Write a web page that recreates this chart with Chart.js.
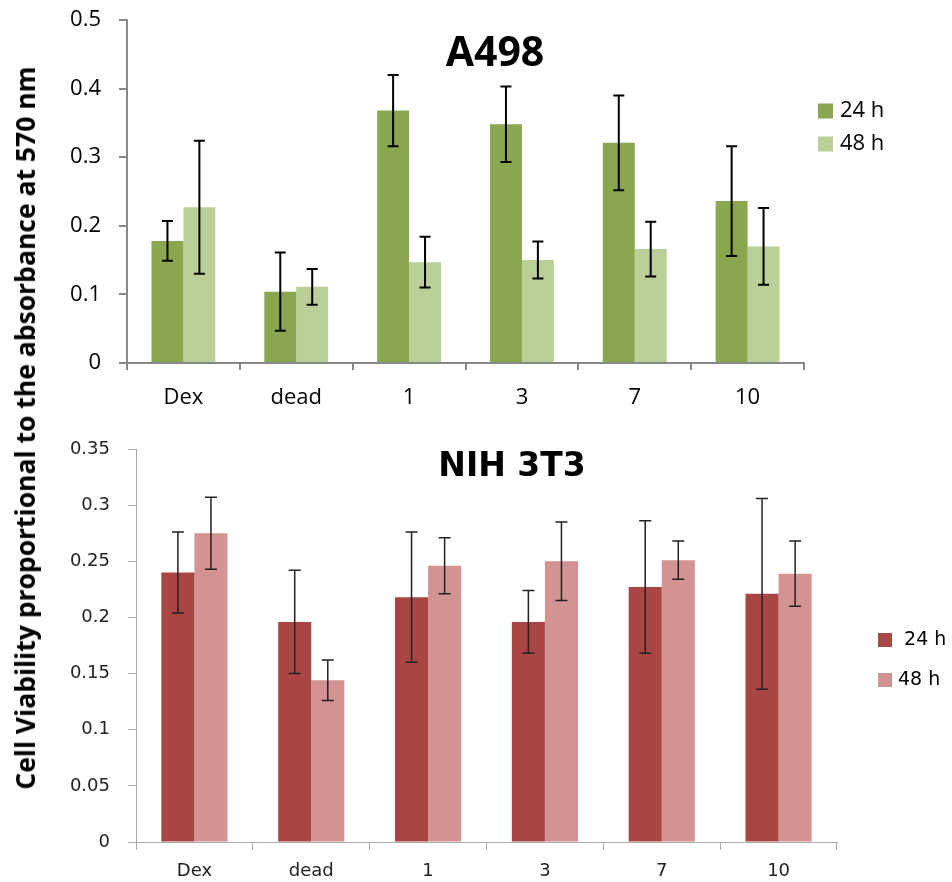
<!DOCTYPE html>
<html><head><meta charset="utf-8">
<script src="https://cdn.jsdelivr.net/npm/chart.js@4.4.1/dist/chart.umd.min.js"></script>
<style>
html,body{margin:0;padding:0;background:#fff;}
#wrap{position:relative;width:952px;height:882px;overflow:hidden;}
#c1{position:absolute;left:0;top:0;}
#c2{position:absolute;left:0;top:420px;}
#ytitle{position:absolute;left:25px;top:428px;transform:translate(-50%,-50%) rotate(-90deg);white-space:nowrap;font:bold 26.5px "Open Sans";color:#000;}
</style></head>
<body><div id="wrap">
<canvas id="c1" width="952" height="420"></canvas>
<canvas id="c2" width="952" height="462"></canvas>
<div id="ytitle">Cell Viability proportional to the absorbance at 570 nm</div>
</div>
<script>
const categories = ['Dex','dead','1','3','7','10'];

const titleTop = 'A498';
const seriesTop = ['24 h','48 h'];
const top24 = [0.178, 0.104, 0.368, 0.348, 0.321, 0.236];
const top24Err = [0.029, 0.057, 0.052, 0.055, 0.069, 0.080];
const top48 = [0.227, 0.111, 0.147, 0.150, 0.166, 0.170];
const top48Err = [0.097, 0.026, 0.037, 0.027, 0.040, 0.056];
const yTickValuesTop = [0, 0.1, 0.2, 0.3, 0.4, 0.5];
const yTickLabelsTop = ['0','0.1','0.2','0.3','0.4','0.5'];

const titleBottom = 'NIH 3T3';
const seriesBottom = [' 24 h','48 h'];
const bot24 = [0.240, 0.196, 0.218, 0.196, 0.227, 0.221];
const bot24Err = [0.036, 0.046, 0.058, 0.028, 0.059, 0.085];
const bot48 = [0.275, 0.144, 0.246, 0.250, 0.251, 0.239];
const bot48Err = [0.032, 0.018, 0.025, 0.035, 0.017, 0.029];
const yTickValuesBottom = [0, 0.05, 0.1, 0.15, 0.2, 0.25, 0.3, 0.35];
const yTickLabelsBottom = ['0','0.05','0.1','0.15','0.2','0.25','0.3','0.35'];

const errorBars = {
  id: 'errorBars',
  afterDatasetsDraw(chart, args, o) {
    const ctx = chart.ctx, y = chart.scales.y;
    ctx.save();
    ctx.strokeStyle = o.color; ctx.lineWidth = o.width;
    chart.data.datasets.forEach((ds, di) => {
      const meta = chart.getDatasetMeta(di);
      meta.data.forEach((bar, i) => {
        const v = ds.data[i], e = ds.errors[i];
        const yt = y.getPixelForValue(v + e), yb = y.getPixelForValue(v - e);
        const x = bar.x, c = o.cap / 2;
        ctx.beginPath();
        ctx.moveTo(x, yt); ctx.lineTo(x, yb);
        ctx.moveTo(x - c, yt); ctx.lineTo(x + c, yt);
        ctx.moveTo(x - c, yb); ctx.lineTo(x + c, yb);
        ctx.stroke();
      });
    });
    ctx.restore();
  }
};

const overlay = {
  id: 'overlay',
  afterDraw(chart, args, o) {
    const ctx = chart.ctx;
    ctx.save();
    ctx.font = o.titleFont; ctx.fillStyle = '#000';
    ctx.textAlign = 'center'; ctx.textBaseline = 'middle';
    ctx.fillText(o.title, o.titleX, o.titleY);
    ctx.font = o.legendFont; ctx.textAlign = 'left';
    chart.data.datasets.forEach((ds, i) => {
      const yc = o.legendY + i * o.legendGap;
      ctx.fillStyle = ds.backgroundColor;
      ctx.fillRect(o.legendX, yc - o.box / 2, o.box, o.box);
      ctx.fillStyle = o.legendColor;
      ctx.fillText(ds.label, o.legendX + o.box + o.textGap, yc);
    });
    ctx.restore();
  }
};

function makeChart(id, cfg) {
  return new Chart(document.getElementById(id), {
    type: 'bar',
    data: {
      labels: categories,
      datasets: [
        { label: cfg.series[0], data: cfg.d1, errors: cfg.e1, backgroundColor: cfg.c1, borderWidth: 0 },
        { label: cfg.series[1], data: cfg.d2, errors: cfg.e2, backgroundColor: cfg.c2, borderWidth: 0 }
      ]
    },
    options: {
      responsive: false,
      animation: false,
      devicePixelRatio: 1,
      layout: { padding: { left: 0, top: cfg.padTop, right: cfg.padRight, bottom: 0 } },
      datasets: { bar: { barPercentage: 1, categoryPercentage: 0.566 } },
      plugins: {
        legend: { display: false },
        tooltip: { enabled: false },
        errorBars: cfg.err,
        overlay: cfg.overlay
      },
      scales: {
        x: {
          offset: true,
          afterFit: s => { s.height = cfg.xHeight; s.paddingLeft = 0; s.paddingRight = 0; },
          grid: { offset: true, drawOnChartArea: false, drawTicks: true, tickLength: cfg.xTick, color: cfg.axisColor, lineWidth: cfg.axisWidth },
          border: { color: cfg.axisColor, width: cfg.axisWidth },
          ticks: { font: cfg.tickFont, color: cfg.tickColor, padding: cfg.xPad, maxRotation: 0, autoSkip: false }
        },
        y: {
          min: 0, max: cfg.yMax,
          afterFit: s => { s.width = cfg.yWidth; s.paddingTop = 0; s.paddingBottom = 0; },
          afterBuildTicks: s => { s.ticks = cfg.yVals.map(v => ({ value: v })); },
          grid: { drawOnChartArea: false, drawTicks: true, tickLength: 8, color: cfg.axisColor, lineWidth: cfg.axisWidth },
          border: { color: cfg.axisColor, width: cfg.axisWidth },
          ticks: { font: cfg.tickFont, color: cfg.tickColor, padding: cfg.yPad, callback: (v, i) => cfg.yLabels[i] }
        }
      }
    },
    plugins: [errorBars, overlay]
  });
}

makeChart('c1', {
  series: seriesTop, d1: top24, e1: top24Err, d2: top48, e2: top48Err,
  c1: '#8AA64E', c2: '#BBCF98',
  padTop: 20, padRight: 148, xHeight: 57, yWidth: 127, yMax: 0.5,
  yVals: yTickValuesTop, yLabels: yTickLabelsTop,
  xTick: 7, xPad: 15, yPad: 18,
  axisColor: '#888888', axisWidth: 2,
  tickFont: { family: 'Open Sans', size: 22 }, tickColor: '#000',
  err: { color: '#000', width: 2, cap: 11 },
  overlay: { title: titleTop, titleFont: 'bold 41px "Open Sans"', titleX: 495, titleY: 54,
    legendFont: '22px "Open Sans"', legendColor: '#000', legendX: 818, legendY: 111, legendGap: 33, box: 15, textGap: 7 }
});

makeChart('c2', {
  series: seriesBottom, d1: bot24, e1: bot24Err, d2: bot48, e2: bot48Err,
  c1: '#A94644', c2: '#D39392',
  padTop: 29, padRight: 115, xHeight: 40, yWidth: 136, yMax: 0.35,
  yVals: yTickValuesBottom, yLabels: yTickLabelsBottom,
  xTick: 8, xPad: 11, yPad: 18,
  axisColor: '#AAAAAA', axisWidth: 1,
  tickFont: { family: 'DejaVu Sans', size: 18 }, tickColor: '#222',
  err: { color: '#222', width: 1.5, cap: 12 },
  overlay: { title: titleBottom, titleFont: 'bold 33px "DejaVu Sans"', titleX: 512, titleY: 47,
    legendFont: '19px "DejaVu Sans"', legendColor: '#000', legendX: 878, legendY: 220, legendGap: 40, box: 14, textGap: 6 }
});
</script>
</body></html>
